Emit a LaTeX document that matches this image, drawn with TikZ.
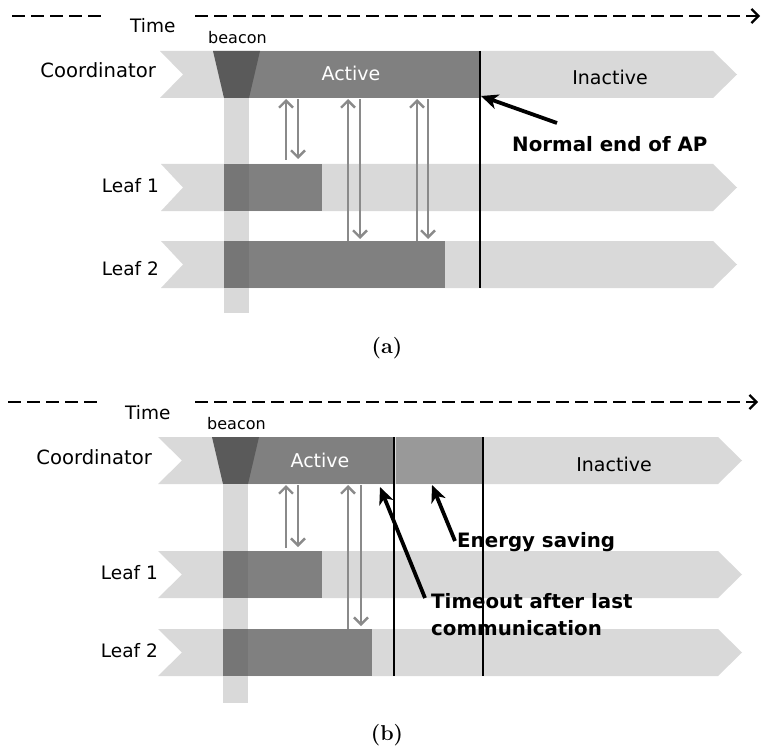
\documentclass[tikz,border=0pt]{standalone}
\usepackage{fontspec}
\newfontfamily\dejavu{DejaVu Sans}
\usetikzlibrary{arrows.meta}
\definecolor{bandgray}{HTML}{D9D9D9}
\definecolor{actgray}{HTML}{808080}
\definecolor{overgray}{HTML}{767676}
\definecolor{beacgray}{HTML}{5A5A5A}
\definecolor{savegray}{HTML}{999999}
\definecolor{arrgray}{HTML}{8A8A8A}
\newcommand{\bandrow}[6]{\fill[bandgray] (#1,#5) -- (#3,#5) -- (#4,{(#5+#6)/2}) -- (#3,#6) -- (#1,#6) -- (#2,{(#5+#6)/2}) -- cycle;}
\tikzset{
  lbl/.style={font=\dejavu\fontsize{18.5}{22}\selectfont, inner sep=0pt, anchor=base east},
  clbl/.style={font=\dejavu\fontsize{19.6}{22}\selectfont, inner sep=0pt, anchor=base east},
  tlbl/.style={font=\dejavu\fontsize{18.5}{22}\selectfont, inner sep=0pt, anchor=base west},
  blbl/.style={font=\dejavu\fontsize{16}{19}\selectfont, inner sep=0pt, anchor=base west},
  stlbl/.style={font=\dejavu\fontsize{19}{22}\selectfont, inner sep=0pt, anchor=base},
  annlbl/.style={font=\dejavu\bfseries\fontsize{19.8}{27}\selectfont, inner sep=0pt, anchor=base west, align=left},
  caplbl/.style={font=\bfseries\fontsize{21.5}{24}\selectfont, inner sep=0pt},
  msg/.style={draw=arrgray, line width=1.4pt, -{Straight Barb[length=7pt,width=14pt,line width=2.4pt]}},
  timeline/.style={line width=1.5pt, dash pattern=on 13pt off 6pt},
  annot/.style={line width=3.8pt, -{Stealth[length=17pt,width=15pt,inset=5pt]}},
  endline/.style={line width=1.3pt},
}
\begin{document}
\begin{tikzpicture}[x=1pt,y=-1pt]
\useasboundingbox (0,0) rectangle (763,749);
% ================= panel (a) =================
\draw[timeline] (12,16) -- (105,16);
\draw[timeline, -{Straight Barb[length=7pt,width=14pt,line width=2.2pt]}] (195,16) -- (760,16);
\node[tlbl] (timeA) at (130,33) {Time};
\bandrow{160}{183}{713}{737}{51}{98}
\bandrow{161}{183}{713}{737}{164}{211}
\bandrow{161}{183}{713}{737}{241}{288}
\fill[actgray] (240,51) rectangle (480,98);
\fill[beacgray] (213,51) -- (260,51) -- (249,98) -- (224,98) -- cycle;
\fill[bandgray] (224,98) rectangle (249,313);
\fill[actgray] (224,164) rectangle (322,211);
\fill[actgray] (224,241) rectangle (445,288);
\fill[overgray] (224,164) rectangle (249,211);
\fill[overgray] (224,241) rectangle (249,288);
\draw[endline] (480,51) -- (480,288);
\node[blbl] (beaconA) at (208,44) {beacon};
\node[clbl] (coordA) at (156,78) {Coordinator};
\node[lbl] (leaf1A) at (159,192) {Leaf 1};
\node[lbl] (leaf2A) at (159,275) {Leaf 2};
\node[stlbl, text=white] (activeA) at (351,81) {Active};
\node[stlbl] (inactA) at (610,85) {Inactive};
\coordinate (u1a) at (286,160); \coordinate (u1b) at (286,99);
\coordinate (d1a) at (298,99);  \coordinate (d1b) at (298,159);
\coordinate (u2a) at (348,241); \coordinate (u2b) at (348,99);
\coordinate (d2a) at (360,99);  \coordinate (d2b) at (360,239);
\coordinate (u3a) at (417,241); \coordinate (u3b) at (417,99);
\coordinate (d3a) at (428,99);  \coordinate (d3b) at (428,239);
\draw[msg] (u1a) -- (u1b); \draw[msg] (d1a) -- (d1b);
\draw[msg] (u2a) -- (u2b); \draw[msg] (d2a) -- (d2b);
\draw[msg] (u3a) -- (u3b); \draw[msg] (d3a) -- (d3b);
\node[annlbl] (normal) at (512,152) {Normal end of AP};
\coordinate (normtail) at (557,123);
\coordinate (normtip) at (481,96);
\draw[annot] (normtail) -- (normtip);
\node[caplbl] (capA) at (387,348) {(a)};
% ================= panel (b) =================
\draw[timeline] (8,402) -- (102,402);
\draw[timeline, -{Straight Barb[length=7pt,width=14pt,line width=2.2pt]}] (195,402) -- (758,402);
\node[tlbl] (timeB) at (125,419) {Time};
\bandrow{158}{182}{718}{742}{437}{484}
\bandrow{158}{182}{718}{742}{551}{598}
\bandrow{158}{182}{718}{742}{629}{676}
\fill[actgray] (240,437) rectangle (394,484);
\fill[savegray] (396,437) rectangle (483,484);
\fill[beacgray] (212,437) -- (259,437) -- (248,484) -- (223,484) -- cycle;
\fill[bandgray] (223,484) rectangle (248,703);
\fill[actgray] (223,551) rectangle (322,598);
\fill[actgray] (223,629) rectangle (372,676);
\fill[overgray] (223,551) rectangle (248,598);
\fill[overgray] (223,629) rectangle (248,676);
\draw[endline] (394,437) -- (394,676);
\draw[endline] (483,437) -- (483,676);
\node[blbl] (beaconB) at (207,429) {beacon};
\node[clbl] (coordB) at (152,464) {Coordinator};
\node[lbl] (leaf1B) at (158,579) {Leaf 1};
\node[lbl] (leaf2B) at (158,657) {Leaf 2};
\node[stlbl, text=white] (activeB) at (320,467) {Active};
\node[stlbl] (inactB) at (614,471) {Inactive};
\coordinate (bu1a) at (286,548); \coordinate (bu1b) at (286,485);
\coordinate (bd1a) at (298,485); \coordinate (bd1b) at (298,547);
\coordinate (bu2a) at (348,629); \coordinate (bu2b) at (348,485);
\coordinate (bd2a) at (361,485); \coordinate (bd2b) at (361,626);
\draw[msg] (bu1a) -- (bu1b); \draw[msg] (bd1a) -- (bd1b);
\draw[msg] (bu2a) -- (bu2b); \draw[msg] (bd2a) -- (bd2b);
\node[annlbl] (energy) at (457,547) {Energy saving};
\node[annlbl] (timeout) at (431,635) {Timeout after last\\communication};
\coordinate (entail) at (455,541);
\coordinate (entip) at (432,485);
\draw[annot] (entail) -- (entip);
\coordinate (totail) at (425,598);
\coordinate (totip) at (380,487);
\draw[annot] (totail) -- (totip);
\node[caplbl] (capB) at (387,735) {(b)};
\end{tikzpicture}
\end{document}
